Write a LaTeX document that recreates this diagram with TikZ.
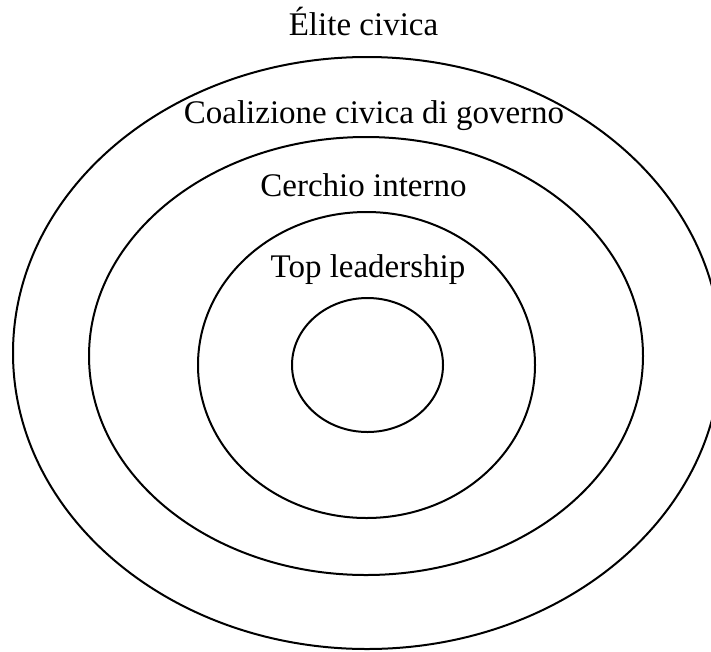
\documentclass[tikz,border=0pt]{standalone}
\usepackage{fontspec}
\setmainfont{Liberation Serif}
\usetikzlibrary{shapes.geometric}
\tikzset{
  ring/.style={draw=black, line width=2pt, ellipse, inner sep=0pt, fill=none},
  lbl/.style={anchor=base, inner sep=0pt, font=\fontsize{33}{38}\selectfont}
}
\begin{document}
\begin{tikzpicture}[x=1pt,y=-1pt]
\useasboundingbox (0,0) rectangle (711,651);
\clip (0,0) rectangle (711,651);
\node[ring, minimum width=708pt, minimum height=592pt] (outer) at (367,353) {};
\node[ring, minimum width=554pt, minimum height=438pt] (coal) at (366,356) {};
\node[ring, minimum width=337pt, minimum height=306pt] (inner) at (366.5,365) {};
\node[ring, minimum width=151pt, minimum height=134pt] (core) at (367.5,365) {};
\node[lbl] (t1) at (363.5,35) {Élite civica};
\node[lbl] (t2) at (374,123) {Coalizione civica di governo};
\node[lbl] (t3) at (363.5,196) {Cerchio interno};
\node[lbl] (t4) at (368,277) {Top leadership};
\end{tikzpicture}
\end{document}
